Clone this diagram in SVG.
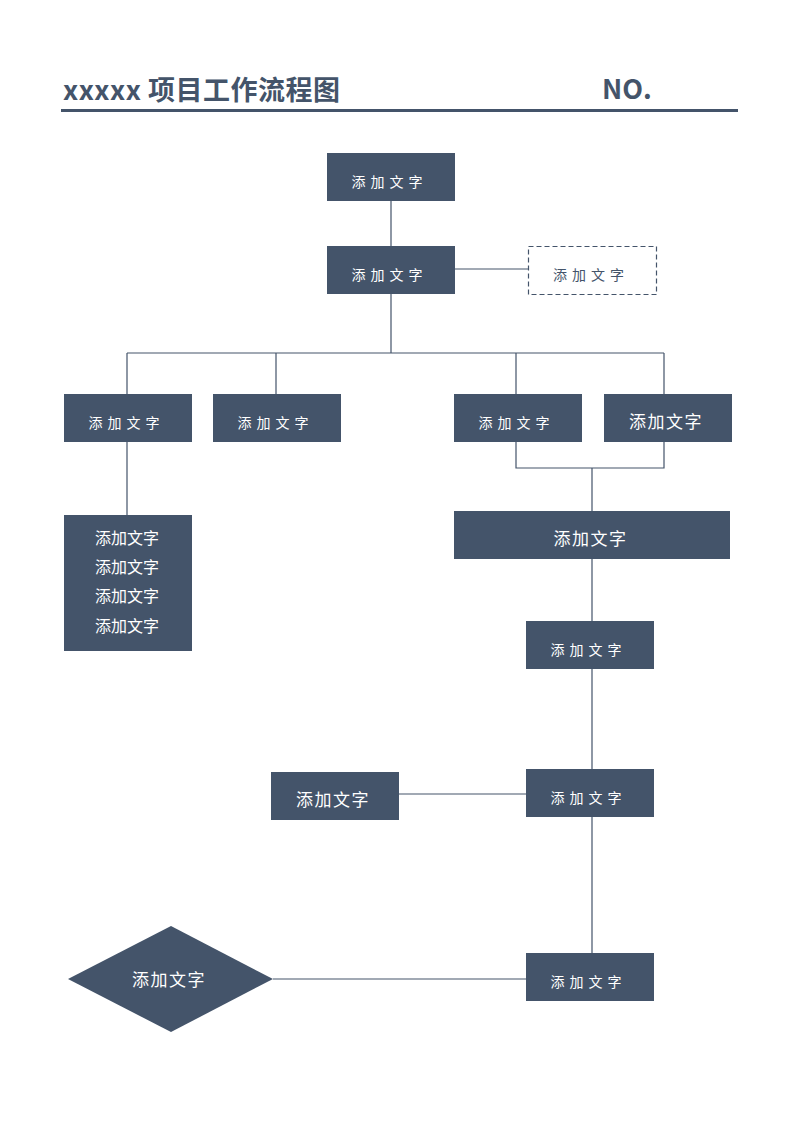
<svg xmlns="http://www.w3.org/2000/svg" width="794" height="1123" viewBox="0 0 794 1123">
<style>
.n{fill:#44546A}
.d{fill:#fff;stroke:#44546A;stroke-width:1.2;stroke-dasharray:5 3}
.t{font-family:"Noto Sans CJK SC","Noto Sans",sans-serif;fill:#fff;text-anchor:middle}
.s{font-size:14px;letter-spacing:5px}
.b{font-size:17px;letter-spacing:1.5px}
.c{fill:none;stroke:#44546A;stroke-width:1.2}
.h{font-family:"Noto Sans CJK SC","Noto Sans",sans-serif;font-weight:bold;fill:#44546A;font-size:27px}
</style>
<rect width="794" height="1123" fill="#fff"/>
<g id="header">
<text class="h" x="63" y="100" style="letter-spacing:0.5px">xxxxx 项目工作流程图</text>
<text class="h" x="602" y="99">NO.</text>
<rect x="61" y="109" width="677" height="3" fill="#44546A"/>
</g>
<g id="connectors">
<path class="c" d="M391 201V246M455 269H528M391 294V353M127 353H664M127 353V394M276 353V394M516 353V394M664 353V394M516 442V468H664V442M592 468V511M127 442V515M592 559V621M592 669V769M399 794H526M592 817V953M273 979H526"/>
</g>
<g id="n1"><rect class="n" x="327" y="153" width="128" height="48"/><text class="t s" x="389.5" y="187">添加文字</text></g>
<g id="n2"><rect class="n" x="327" y="246" width="128" height="48"/><text class="t s" x="389.5" y="280">添加文字</text></g>
<g id="n3"><rect class="d" x="528.5" y="246.5" width="128" height="48"/><text class="t s" x="591" y="280" style="fill:#44546A">添加文字</text></g>
<g id="n4"><rect class="n" x="64" y="394" width="128" height="48"/><text class="t s" x="126.5" y="428">添加文字</text></g>
<g id="n5"><rect class="n" x="213" y="394" width="128" height="48"/><text class="t s" x="275.5" y="428">添加文字</text></g>
<g id="n6"><rect class="n" x="454" y="394" width="128" height="48"/><text class="t s" x="516.5" y="428">添加文字</text></g>
<g id="n7"><rect class="n" x="604" y="394" width="128" height="48"/><text class="t b" x="666" y="428">添加文字</text></g>
<g id="n8"><rect class="n" x="454" y="511" width="276" height="48"/><text class="t b" x="590.5" y="545">添加文字</text></g>
<g id="n9"><rect class="n" x="64" y="515" width="128" height="136"/>
<text class="t" style="font-size:16px" x="127" y="544">添加文字</text>
<text class="t" style="font-size:16px" x="127" y="573">添加文字</text>
<text class="t" style="font-size:16px" x="127" y="602">添加文字</text>
<text class="t" style="font-size:16px" x="127" y="632">添加文字</text></g>
<g id="n10"><rect class="n" x="526" y="621" width="128" height="48"/><text class="t s" x="588.5" y="655">添加文字</text></g>
<g id="n11"><rect class="n" x="526" y="769" width="128" height="48"/><text class="t s" x="588.5" y="803">添加文字</text></g>
<g id="n12"><rect class="n" x="271" y="772" width="128" height="48"/><text class="t b" x="333" y="806">添加文字</text></g>
<g id="n13"><rect class="n" x="526" y="953" width="128" height="48"/><text class="t s" x="588.5" y="987">添加文字</text></g>
<g id="n14"><polygon class="n" points="171,926 273,979 171,1032 68,979"/><text class="t b" x="169" y="986">添加文字</text></g>
</svg>
